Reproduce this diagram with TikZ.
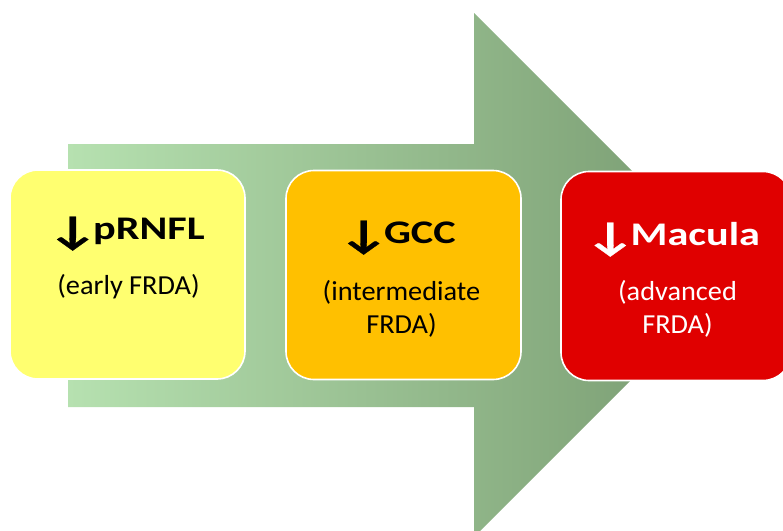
\documentclass[tikz,border=0pt]{standalone}
\usepackage{fontspec}
\setmainfont{Carlito}
\newfontfamily\ttlfont{Carlito}[FakeStretch=1.28]
\newfontfamily\subfont{Carlito}[FakeStretch=1.03]
\newfontfamily\arrfont{Carlito}[FakeStretch=1.4,FakeBold=0.8]
\newcommand{\dnarr}{{\arrfont\bfseries\fontsize{40}{40}\selectfont\raisebox{-5pt}{↓}}\kern-5pt}
\definecolor{arrL}{RGB}{182,225,176}
\definecolor{arrR}{RGB}{118,152,110}
\definecolor{yel}{RGB}{255,255,112}
\definecolor{org}{RGB}{255,192,0}
\definecolor{rd}{RGB}{224,0,0}
\begin{document}
\begin{tikzpicture}[x=1pt,y=-1pt,
  box/.style={draw=white,line width=1.6pt,rounded corners=28pt,minimum width=235pt,minimum height=209pt,inner sep=0},
  ttl/.style={anchor=base,font=\ttlfont\bfseries\fontsize{33}{40}\selectfont,inner sep=0},
  sub/.style={anchor=base,font=\subfont\fontsize{27.5}{33}\selectfont,inner sep=0,align=center}]
\useasboundingbox (0,0) rectangle (783,530);
\clip (0,0) rectangle (783,530);
\shade[left color=arrL,right color=arrR] (68,144) -- (474,144) -- (474,13) -- (736,275) -- (474,537) -- (474,407) -- (68,407) -- cycle;
\node[box,fill=yel] (b1) at (127.5,274.5) {};
\node[box,fill=org] (b2) at (403.5,275) {};
\node[box,fill=rd,minimum width=230pt] (b3) at (676,276) {};
\node[ttl] (t1) at (126,239) {\dnarr pRNFL};
\node[sub] (s1) at (128.5,294) {(early FRDA)};
\node[ttl] (t2) at (397,243) {\dnarr GCC};
\node[sub] (s2) at (401.5,333) {(intermediate\\FRDA)};
\node[ttl,text=white] (t3) at (672.5,245) {\dnarr Macula};
\node[sub,text=white] (s3) at (677.5,333) {(advanced\\FRDA)};
\end{tikzpicture}
\end{document}
